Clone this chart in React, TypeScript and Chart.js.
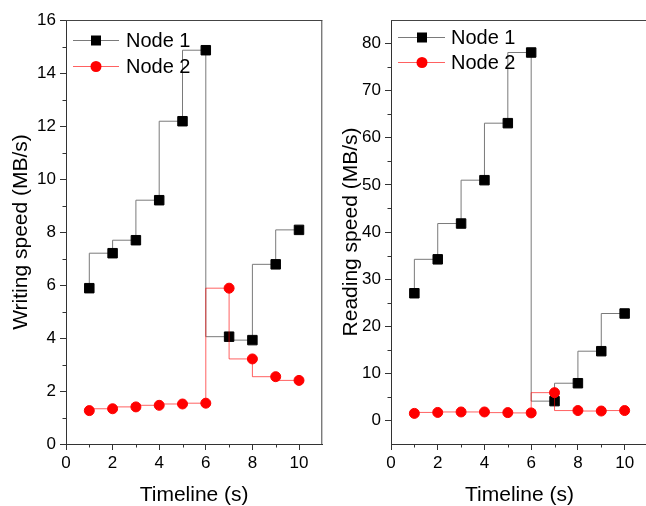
import React, { useEffect, useRef } from 'react';
import { Chart, registerables } from 'chart.js';
Chart.register(...registerables);

const timeline = [1, 2, 3, 4, 5, 6, 7, 8, 9, 10];
const writeNode1 = [5.88, 7.2, 7.69, 9.2, 12.18, 14.86, 4.05, 3.92, 6.78, 8.08];
const writeNode2 = [1.26, 1.33, 1.4, 1.46, 1.51, 1.54, 5.88, 3.21, 2.54, 2.4];
const readNode1 = [27.0, 34.2, 41.8, 51.0, 63.1, 78.1, 4.1, 7.9, 14.7, 22.7];
const readNode2 = [1.5, 1.7, 1.8, 1.8, 1.66, 1.6, 5.9, 2.1, 2.0, 2.1];

const xTicks = [0, 2, 4, 6, 8, 10];
const xMinor = [1, 3, 5, 7, 9];
const writeTicks = [0, 2, 4, 6, 8, 10, 12, 14, 16];
const writeMinor = [1, 3, 5, 7, 9, 11, 13, 15];
const readTicks = [0, 10, 20, 30, 40, 50, 60, 70, 80];
const readMinor = [5, 15, 25, 35, 45, 55, 65, 75];
const seriesNames = ['Node 1', 'Node 2'];

const FAMILY = "'Liberation Sans', Arial, sans-serif";
const AXIS = '#333333';
const N1_LINE = '#7a7a7a';
const N2_LINE = 'rgba(255,0,0,0.62)';

type PanelProps = {
  left: number;
  width: number;
  yTitle: string;
  node1: number[];
  node2: number[];
  yMin: number;
  yMax: number;
  yTicks: number[];
  yMinor: number[];
  yAxisWidth: number;
  padRight: number;
  legend: { x0: number; x1: number; xm: number; xt: number; y1: number; y2: number };
};

function drawMarker(ctx: CanvasRenderingContext2D, kind: 'rect' | 'circle', x: number, y: number) {
  ctx.save();
  if (kind === 'rect') {
    ctx.fillStyle = '#000';
    ctx.fillRect(x - 5, y - 5, 10, 10);
  } else {
    ctx.fillStyle = '#ff0000';
    ctx.beginPath();
    ctx.arc(x, y, 5.5, 0, Math.PI * 2);
    ctx.fill();
  }
  ctx.restore();
}

function Panel(p: PanelProps) {
  const ref = useRef<HTMLCanvasElement>(null);
  useEffect(() => {
    const extras = {
      id: 'extras',
      afterDraw(chart: any) {
        const ctx = chart.ctx as CanvasRenderingContext2D;
        const a = chart.chartArea;
        const xs = chart.scales.x;
        const ys = chart.scales.y;
        ctx.save();
        ctx.strokeStyle = '#444';
        ctx.lineWidth = 1;
        ctx.beginPath();
        ctx.moveTo(a.left, a.top + 0.5);
        ctx.lineTo(a.right, a.top + 0.5);
        ctx.moveTo(a.right - 0.5, a.top);
        ctx.lineTo(a.right - 0.5, a.bottom);
        ctx.stroke();
        ctx.strokeStyle = AXIS;
        ctx.beginPath();
        xMinor.forEach((v) => {
          const px = Math.round(xs.getPixelForValue(v)) + 0.5;
          ctx.moveTo(px, a.bottom);
          ctx.lineTo(px, a.bottom + 3.5);
        });
        p.yMinor.forEach((v) => {
          const py = Math.round(ys.getPixelForValue(v)) + 0.5;
          ctx.moveTo(a.left, py);
          ctx.lineTo(a.left - 3.5, py);
        });
        ctx.stroke();
        const L = p.legend;
        const lx0 = a.left + L.x0;
        const lx1 = a.left + L.x1;
        const lxm = a.left + L.xm;
        const lxt = a.left + L.xt;
        const ly1 = a.top + L.y1;
        const ly2 = a.top + L.y2;
        ctx.lineWidth = 1;
        ctx.strokeStyle = N1_LINE;
        ctx.beginPath();
        ctx.moveTo(lx0, ly1 + 0.5);
        ctx.lineTo(lx1, ly1 + 0.5);
        ctx.stroke();
        ctx.strokeStyle = N2_LINE;
        ctx.beginPath();
        ctx.moveTo(lx0, ly2 + 0.5);
        ctx.lineTo(lx1, ly2 + 0.5);
        ctx.stroke();
        drawMarker(ctx, 'rect', lxm, ly1 + 0.5);
        drawMarker(ctx, 'circle', lxm, ly2 + 0.5);
        ctx.fillStyle = '#000';
        ctx.font = `20px ${FAMILY}`;
        ctx.textBaseline = 'middle';
        ctx.textAlign = 'left';
        ctx.fillText(seriesNames[0], lxt, ly1 + 1);
        ctx.fillText(seriesNames[1], lxt, ly2 + 1);
        ctx.restore();
      },
    };

    const chart = new Chart(ref.current as HTMLCanvasElement, {
      type: 'line',
      data: {
        datasets: [
          {
            label: seriesNames[0],
            data: timeline.map((x, i) => ({ x, y: p.node1[i] })),
            stepped: 'after',
            borderColor: N1_LINE,
            borderWidth: 1,
            pointStyle: 'rect',
            pointRadius: 6.7,
            pointBackgroundColor: '#000',
            pointBorderColor: '#000',
            pointBorderWidth: 1,
            order: 2,
          },
          {
            label: seriesNames[1],
            data: timeline.map((x, i) => ({ x, y: p.node2[i] })),
            stepped: 'after',
            borderColor: N2_LINE,
            borderWidth: 1,
            pointStyle: 'circle',
            pointRadius: 5,
            pointBackgroundColor: '#ff0000',
            pointBorderColor: '#ff0000',
            pointBorderWidth: 1,
            order: 1,
          },
        ],
      } as any,
      options: {
        responsive: false,
        animation: false,
        events: [],
        layout: { padding: { top: 20, right: p.padRight, left: 0, bottom: 0 } },
        plugins: { legend: { display: false }, tooltip: { enabled: false } },
        scales: {
          x: {
            type: 'linear',
            min: 0,
            max: 11,
            afterBuildTicks: (s: any) => {
              s.ticks = xTicks.map((v) => ({ value: v }));
            },
            afterFit: (s: any) => {
              s.height = 62;
            },
            grid: { drawOnChartArea: false, drawTicks: true, tickLength: 6, color: AXIS },
            border: { display: true, color: AXIS, width: 1 },
            ticks: { font: { size: 17, family: FAMILY }, color: '#000', padding: 3, maxRotation: 0, autoSkip: false },
            title: { display: true, text: 'Timeline (s)', font: { size: 21, family: FAMILY }, color: '#000', padding: { top: 0, bottom: -2 } },
          },
          y: {
            type: 'linear',
            min: p.yMin,
            max: p.yMax,
            afterBuildTicks: (s: any) => {
              s.ticks = p.yTicks.map((v) => ({ value: v }));
            },
            afterFit: (s: any) => {
              s.width = p.yAxisWidth;
            },
            grid: { drawOnChartArea: false, drawTicks: true, tickLength: 6, color: AXIS },
            border: { display: true, color: AXIS, width: 1 },
            ticks: { font: { size: 17, family: FAMILY }, color: '#000', padding: 4, autoSkip: false },
            title: { display: true, text: p.yTitle, font: { size: 21, family: FAMILY }, color: '#000', padding: { top: 9, bottom: 0 } },
          },
        },
      } as any,
      plugins: [extras],
    });
    return () => chart.destroy();
  }, []);
  return (
    <canvas
      ref={ref}
      width={p.width}
      height={506}
      style={{ position: 'absolute', left: p.left, top: 0, width: p.width, height: 506 }}
    />
  );
}

export default function App() {
  return (
    <div style={{ position: 'fixed', left: 0, top: 0, width: 646, height: 506, overflow: 'hidden', background: '#fff' }}>
      <Panel
        left={0}
        width={330}
        yTitle="Writing speed (MB/s)"
        node1={writeNode1}
        node2={writeNode2}
        yMin={0}
        yMax={16}
        yTicks={writeTicks}
        yMinor={writeMinor}
        yAxisWidth={66}
        padRight={6}
        legend={{ x0: 7, x1: 53, xm: 30, xt: 60, y1: 20, y2: 46 }}
      />
      <Panel
        left={330}
        width={330}
        yTitle="Reading speed (MB/s)"
        node1={readNode1}
        node2={readNode2}
        yMin={-5}
        yMax={85}
        yTicks={readTicks}
        yMinor={readMinor}
        yAxisWidth={61}
        padRight={12}
        legend={{ x0: 7, x1: 54, xm: 31, xt: 60, y1: 17, y2: 42 }}
      />
    </div>
  );
}
